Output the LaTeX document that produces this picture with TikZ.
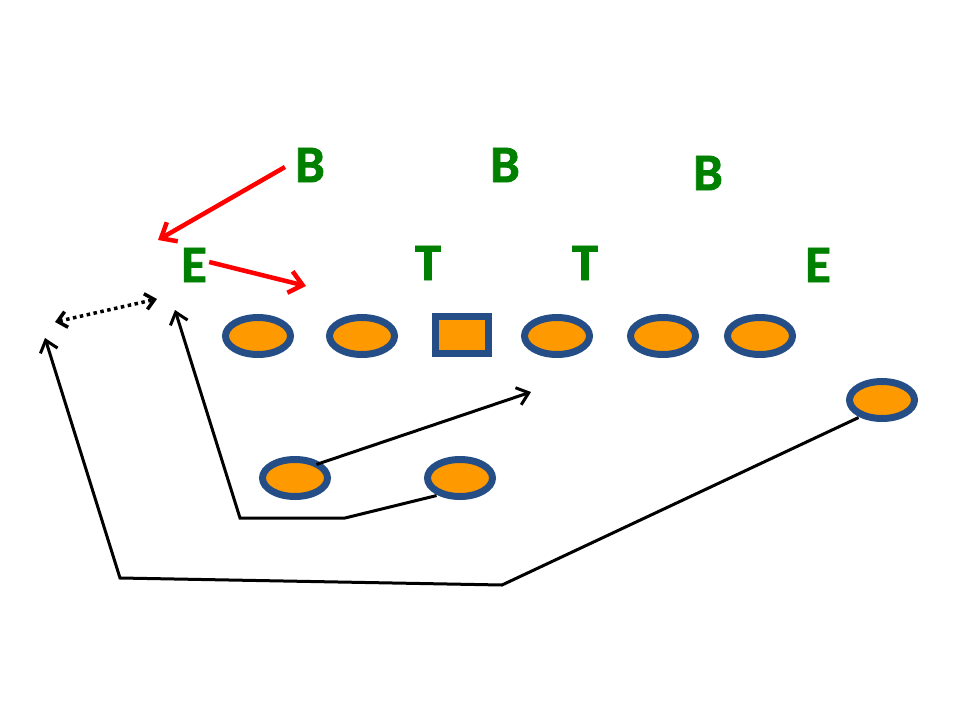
\documentclass[tikz,border=0pt]{standalone}
\usepackage{fontspec}
\setmainfont{Carlito}
\newfontfamily\letterfont[FakeBold=1.5]{Carlito Bold}
\usetikzlibrary{arrows.meta,shapes.geometric}
\definecolor{pgreen}{HTML}{008000}
\definecolor{porange}{HTML}{FF9900}
\definecolor{pblue}{HTML}{264E86}
\definecolor{pred}{HTML}{FF0000}
\begin{document}
\begin{tikzpicture}[x=0.02cm,y=-0.02cm,
  player/.style={ellipse,draw=pblue,fill=porange,line width=7*0.02cm,minimum width=65*0.02cm,minimum height=37*0.02cm,inner sep=0pt},
  center/.style={rectangle,draw=pblue,fill=porange,line width=7*0.02cm,minimum width=53*0.02cm,minimum height=37*0.02cm,inner sep=0pt},
  defl/.style={text=pgreen,font=\letterfont\fontsize{30}{30}\selectfont,inner sep=0pt},
  redarr/.style={draw=pred,line width=4.5*0.02cm,-{Straight Barb[length=13*0.02cm,width=22*0.02cm]}},
  route/.style={draw=black,line width=3*0.02cm,-{Straight Barb[length=11*0.02cm,width=18*0.02cm]}},
  motion/.style={draw=black,line width=3.5*0.02cm,dotted,{Straight Barb[length=9*0.02cm,width=16*0.02cm]}-{Straight Barb[length=9*0.02cm,width=16*0.02cm]}}
]
\useasboundingbox (0,0) rectangle (960,720);
% offensive line
\node[player] (lt) at (258,336) {};
\node[player] (lg) at (362,336) {};
\node[center] (c) at (462,335) {};
\node[player] (rg) at (557,336) {};
\node[player] (rt) at (663,336) {};
\node[player] (te) at (760,336) {};
% backs
\node[player] (qb) at (295,478) {};
\node[player] (hb) at (460,478) {};
\node[player] (wr) at (882,400) {};
% defense
\node[defl] (b1) at (310,165) {B};
\node[defl] (b2) at (505,165) {B};
\node[defl] (b3) at (708,173) {B};
\node[defl] (e1) at (194,265) {E};
\node[defl] (t1) at (428,263) {T};
\node[defl] (t2) at (585,263) {T};
\node[defl] (e2) at (818,265) {E};
% red arrows
\coordinate (r0) at (285,167);
\coordinate (r1) at (158,240);
\coordinate (r2) at (306,286);
\draw[redarr] (r0) -- (r1);
\draw[redarr] (e1.east) ++(2,-3) -- (r2);
% motion
\coordinate (m1) at (55,322);
\coordinate (m2) at (157,299);
\draw[motion] (m1) -- (m2);
% routes
\coordinate (p1) at (531,392);
\draw[route] (qb.north east) ++(-4,2) -- (p1);
\coordinate (h1) at (345,518);
\coordinate (h2) at (240,518);
\coordinate (h3) at (175,310);
\draw[route] (hb.south west) ++(2,2) -- (h1) -- (h2) -- (h3);
\coordinate (w1) at (502,585);
\coordinate (w2) at (120,578);
\coordinate (w3) at (45,338);
\draw[route] (wr.south west) ++(2,2) -- (w1) -- (w2) -- (w3);
\end{tikzpicture}
\end{document}
